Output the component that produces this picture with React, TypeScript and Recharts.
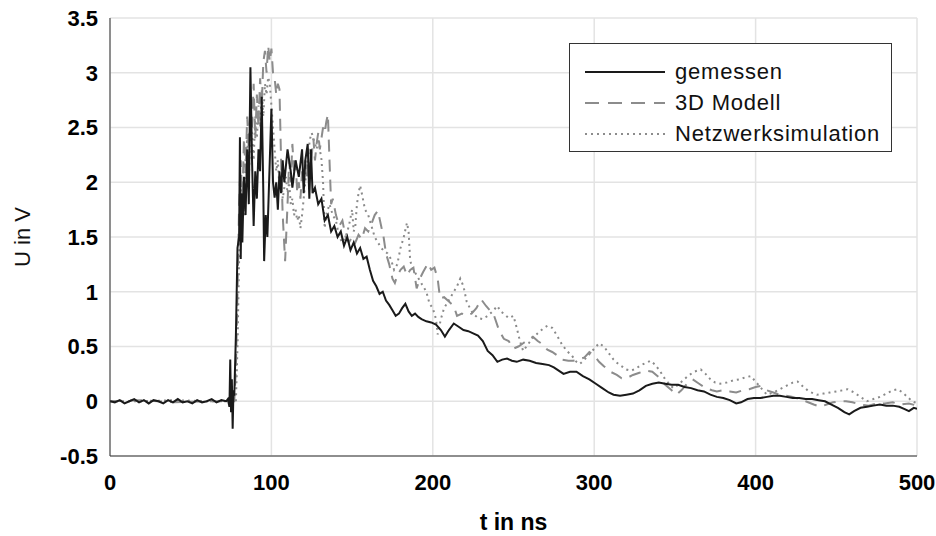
import { LineChart, Line, XAxis, YAxis, CartesianGrid } from 'recharts';

// [t in ns, U in V]
const gemessen: [number, number][] = [
  [0, 0], [3, -0.01], [6, 0.01], [9, -0.02], [12, 0.0], [15, 0.02], [18, -0.01], [21, 0.01],
  [24, -0.02], [27, 0.01], [30, 0.0], [33, -0.02], [36, 0.01], [39, -0.01], [42, 0.02], [45, -0.01],
  [48, 0.0], [51, -0.02], [54, 0.01], [57, -0.01], [60, 0.0], [63, 0.02], [66, -0.01], [69, 0.01],
  [72, 0.0], [73, 0.02], [74, -0.05], [74.5, 0.38], [75, -0.1], [75.5, 0.2], [76, -0.25], [76.5, 0.1],
  [77, 0.05], [78, 0.6], [79, 1.4], [80, 1.5], [80.5, 2.41], [81, 1.3], [81.5, 1.9], [82, 1.45],
  [83, 2.05], [84, 1.7], [85, 2.3], [86, 1.8], [87, 3.05], [88, 2.2], [89, 1.6], [90, 2.1],
  [91, 1.85], [92, 2.3], [93, 2.1], [94, 2.78], [95, 1.9], [95.5, 1.28], [96.5, 1.7], [97.5, 1.5],
  [99, 2.2], [100, 2.67], [101, 2.0], [102, 1.86], [103, 2.0], [104, 1.75], [105, 2.1], [106, 1.9],
  [107, 2.2], [108, 2.0], [110, 2.3], [112, 2.1], [113, 1.95], [115, 2.2], [117, 2.05], [119, 2.3],
  [120, 1.9], [121, 2.2], [122.5, 2.35], [123.5, 1.85], [124.5, 2.3], [125.5, 1.9], [127, 1.95],
  [129, 1.8], [131, 1.85], [133, 1.65], [135, 1.7], [137, 1.55], [139, 1.6], [141, 1.5], [143, 1.55],
  [145, 1.42], [147, 1.5], [149, 1.38], [151, 1.45], [153, 1.35], [155, 1.4], [157, 1.3], [159, 1.32],
  [161, 1.2], [163, 1.1], [165, 1.05], [167, 0.98], [169, 1.0], [171, 0.92], [173, 0.88], [175, 0.83],
  [177, 0.78], [179, 0.8], [181, 0.85], [183, 0.89], [185, 0.82], [187, 0.78], [189, 0.8], [191, 0.77],
  [193, 0.75], [196, 0.73], [199, 0.72], [202, 0.7], [205, 0.65], [207.5, 0.59], [210, 0.65],
  [213, 0.71], [216, 0.68], [219, 0.65], [222, 0.64], [225, 0.62], [228, 0.6], [231, 0.55],
  [234, 0.46], [237, 0.42], [240, 0.36], [243, 0.38], [246, 0.39], [249, 0.37], [252, 0.36],
  [256, 0.38], [260, 0.37], [264, 0.35], [268, 0.34], [272, 0.33], [275, 0.31], [278, 0.28],
  [281, 0.25], [285, 0.27], [289, 0.27], [293, 0.23], [297, 0.2], [301, 0.16], [305, 0.12],
  [309, 0.08], [312, 0.06], [316, 0.05], [320, 0.06], [324, 0.07], [328, 0.1], [332, 0.14],
  [336, 0.16], [340, 0.17], [344, 0.16], [348, 0.15], [352, 0.15], [356, 0.13], [360, 0.12],
  [364, 0.1], [368, 0.09], [372, 0.06], [376, 0.04], [380, 0.03], [384, 0.01], [388, -0.02],
  [391, -0.01], [395, 0.02], [399, 0.03], [403, 0.03], [407, 0.04], [411, 0.05], [415, 0.05],
  [419, 0.04], [423, 0.03], [427, 0.03], [431, 0.02], [435, 0.02], [439, 0.01], [443, 0.0],
  [447, -0.03], [451, -0.06], [455, -0.1], [458, -0.12], [461, -0.09], [465, -0.06], [469, -0.05],
  [473, -0.04], [477, -0.03], [481, -0.04], [485, -0.04], [489, -0.05], [492, -0.07], [495, -0.09],
  [498, -0.06], [500, -0.07],
];

const modell3d: [number, number][] = [
  [0, 0], [20, 0.01], [40, -0.01], [60, 0.0], [77, 0.0], [78, 0.3], [79, 1.0], [80, 1.8], [81, 2.2],
  [82, 1.8], [83, 2.4], [84, 2.1], [85, 2.6], [86, 2.3], [87, 2.7], [88, 2.5], [89, 2.9], [90, 2.4],
  [91, 2.8], [92, 2.5], [93, 2.95], [94, 2.7], [95, 3.1], [96, 3.2], [97, 3.0], [98, 3.25], [99, 3.1],
  [100, 3.22], [101, 3.0], [102, 2.95], [103, 2.8], [104, 2.9], [105, 2.85], [106, 2.2], [107, 1.7],
  [108.5, 1.28], [110, 1.8], [111, 2.2], [112, 2.0], [113, 2.35], [114, 2.1], [115, 2.2], [116, 1.9],
  [117, 2.0], [118, 1.85], [119, 2.1], [120, 2.0], [121, 2.2], [122, 2.05], [123, 2.3], [124, 2.1],
  [125, 2.25], [126, 2.4], [127, 2.2], [128, 2.35], [129, 2.45], [130, 2.3], [131, 2.4], [132, 2.5],
  [133, 2.45], [134, 2.55], [135, 2.62], [136, 2.2], [137, 1.8], [138, 1.85], [140, 1.7], [142, 1.6],
  [144, 1.65], [146, 1.5], [148, 1.45], [150, 1.5], [152, 1.45], [154, 1.52], [156, 1.48], [158, 1.58],
  [160, 1.55], [162, 1.62], [164, 1.7], [166, 1.74], [168, 1.6], [169.5, 1.5], [171, 1.35],
  [173, 1.25], [175, 1.12], [176.5, 1.08], [178, 1.15], [180, 1.2], [182, 1.23], [184, 1.15],
  [186, 1.2], [188, 1.22], [190, 1.03], [192, 1.12], [194, 1.18], [197, 1.26], [199, 1.2], [201, 1.22],
  [203, 1.12], [204.5, 0.94], [207, 0.95], [210, 0.91], [213, 0.87], [215, 0.78], [218, 0.8],
  [221, 0.78], [224, 0.8], [227, 0.85], [230, 0.93], [233, 0.87], [236, 0.82], [238, 0.78],
  [241, 0.65], [244, 0.57], [247, 0.55], [250, 0.48], [253, 0.5], [256, 0.53], [259, 0.56],
  [262, 0.59], [265, 0.55], [268, 0.52], [271, 0.47], [274, 0.45], [277, 0.42], [280, 0.38],
  [284, 0.37], [287, 0.37], [290, 0.38], [294, 0.4], [297, 0.45], [300, 0.42], [303, 0.36],
  [306, 0.32], [310, 0.27], [314, 0.24], [317, 0.21], [320, 0.21], [324, 0.24], [328, 0.26],
  [332, 0.28], [336, 0.27], [340, 0.22], [344, 0.15], [348, 0.1], [351, 0.06], [354, 0.1],
  [357, 0.15], [361, 0.2], [365, 0.16], [369, 0.12], [373, 0.1], [376, 0.09], [380, 0.1],
  [384, 0.09], [388, 0.08], [392, 0.1], [396, 0.11], [400, 0.13], [403, 0.14], [407, 0.1],
  [411, 0.08], [415, 0.06], [419, 0.05], [423, 0.04], [427, 0.02], [431, 0.0], [436, -0.03],
  [440, -0.05], [444, -0.03], [448, -0.01], [452, 0.0], [456, 0.0], [460, -0.01], [465, -0.03],
  [470, -0.04], [475, -0.02], [480, -0.02], [485, -0.01], [490, -0.03], [495, -0.02], [500, -0.04],
];

const netzwerk: [number, number][] = [
  [0, 0], [20, 0.0], [40, 0.01], [60, 0.0], [78, 0.0], [79, 0.5], [80, 1.3], [81, 1.9], [82, 2.0],
  [83, 1.7], [84, 2.2], [85, 2.4], [86, 2.0], [87, 2.5], [88, 2.44], [89, 2.2], [90, 2.6], [91, 2.4],
  [92, 2.7], [93, 2.5], [94, 2.84], [95, 2.6], [96, 2.9], [97, 2.8], [98, 2.96], [99, 2.9], [100, 2.7],
  [101, 2.5], [102, 2.3], [103, 2.1], [104, 2.2], [105, 1.95], [106, 2.05], [107, 1.85], [108, 1.95],
  [109, 2.05], [110, 1.9], [111, 2.0], [112, 1.8], [113, 1.85], [114, 1.7], [115, 1.75], [116, 1.65],
  [117, 1.7], [118, 1.58], [119, 1.7], [120, 1.85], [121, 2.0], [122, 2.15], [123, 2.3], [124, 2.4],
  [125, 2.45], [126, 2.4], [127, 2.35], [128, 2.3], [129, 2.4], [130, 2.3], [131, 2.21], [132, 2.0],
  [133, 1.58], [134, 1.7], [136, 1.8], [138, 1.7], [140, 1.65], [142, 1.5], [144, 1.45], [146, 1.5],
  [148, 1.6], [150, 1.75], [151, 1.55], [152, 1.6], [153, 1.8], [154, 1.9], [155, 1.97], [156, 1.9],
  [158, 1.75], [160, 1.7], [162, 1.6], [164, 1.5], [166, 1.45], [168, 1.4], [170, 1.37], [172, 1.35],
  [174, 1.3], [176, 1.2], [178, 1.25], [180, 1.4], [182, 1.5], [184, 1.63], [185, 1.55], [186, 1.28],
  [188, 1.2], [190, 1.15], [192, 1.1], [194, 1.05], [196, 1.0], [198, 0.89], [200, 0.85], [202, 0.75],
  [203, 0.61], [205, 0.75], [207, 0.85], [209, 0.9], [211, 0.95], [213, 1.0], [215, 1.05], [217, 1.12],
  [219, 1.05], [221, 0.91], [223, 0.85], [225, 0.8], [228, 0.76], [231, 0.75], [234, 0.78], [237, 0.82],
  [240, 0.87], [242, 0.82], [244, 0.8], [247, 0.76], [250, 0.78], [252, 0.67], [254, 0.55], [256, 0.46],
  [259, 0.52], [262, 0.58], [265, 0.62], [268, 0.66], [271, 0.69], [274, 0.67], [277, 0.6], [280, 0.52],
  [283, 0.46], [286, 0.42], [289, 0.36], [291, 0.34], [294, 0.38], [297, 0.43], [300, 0.48], [303, 0.53],
  [306, 0.5], [309, 0.44], [312, 0.38], [315, 0.34], [318, 0.31], [320, 0.29], [323, 0.28], [326, 0.3],
  [329, 0.33], [332, 0.35], [335, 0.37], [338, 0.33], [341, 0.27], [344, 0.2], [347, 0.15], [349, 0.12],
  [352, 0.15], [355, 0.19], [358, 0.23], [362, 0.27], [366, 0.29], [369, 0.25], [372, 0.2], [375, 0.17],
  [378, 0.16], [382, 0.17], [386, 0.19], [390, 0.2], [394, 0.22], [397, 0.23], [400, 0.18], [404, 0.11],
  [407, 0.06], [411, 0.08], [415, 0.11], [419, 0.14], [423, 0.17], [426, 0.18], [429, 0.14], [433, 0.09],
  [438, 0.06], [442, 0.07], [446, 0.08], [450, 0.09], [454, 0.1], [457, 0.11], [461, 0.08], [465, 0.04],
  [469, 0.0], [473, 0.02], [477, 0.04], [481, 0.07], [485, 0.1], [488, 0.11], [491, 0.08], [494, 0.04],
  [497, 0.0], [500, -0.02],
];

const xTicks = [0, 100, 200, 300, 400, 500];
const yTicks = [-0.5, 0, 0.5, 1, 1.5, 2, 2.5, 3, 3.5];

const legendItems = [
  { name: 'gemessen', color: '#1a1a1a', dash: undefined },
  { name: '3D Modell', color: '#8c8c8c', dash: '14 9' },
  { name: 'Netzwerksimulation', color: '#8c8c8c', dash: '2 4' },
];

const toPoints = (rows: [number, number][]) => rows.map(([t, u]) => ({ t, u }));

const tickFont = { fontFamily: 'Liberation Sans, Arial, sans-serif', fontSize: 22, fontWeight: 700, fill: '#000' };

function ChartLegend() {
  return (
    <div
      style={{
        position: 'absolute',
        left: 569,
        top: 43,
        width: 321,
        height: 107,
        border: '1px solid #333',
        background: '#fff',
        fontFamily: 'Liberation Sans, Arial, sans-serif',
        fontSize: 22,
        letterSpacing: 0.8,
        color: '#111',
      }}
    >
      {legendItems.map((item, i) => (
        <div key={item.name} style={{ display: 'flex', alignItems: 'center', height: 31, marginTop: i === 0 ? 12 : 0 }}>
          <svg width={90} height={10} style={{ marginLeft: 15 }}>
            <line x1={0} y1={5} x2={80} y2={5} stroke={item.color} strokeWidth={2} strokeDasharray={item.dash} />
          </svg>
          <span>{item.name}</span>
        </div>
      ))}
    </div>
  );
}

export default function App() {
  return (
    <div style={{ position: 'absolute', left: 0, top: 0, width: 936, height: 536, background: '#fff' }}>
      <LineChart width={936} height={536} margin={{ top: 18, right: 19, bottom: 0, left: 0 }}>
        <CartesianGrid stroke="#e3e3e3" strokeWidth={1.5} />
        <XAxis
          dataKey="t"
          type="number"
          domain={[0, 500]}
          ticks={xTicks}
          allowDataOverflow
          height={80}
          tickLine={false}
          tickMargin={12}
          axisLine={{ stroke: '#333' }}
          tick={tickFont}
          label={{ value: 't in ns', position: 'insideBottom', offset: 6, style: { ...tickFont, fontSize: 23 } }}
        />
        <XAxis xAxisId="top" orientation="top" type="number" domain={[0, 500]} height={0} tick={false} tickLine={false} axisLine={{ stroke: '#333' }} />
        <YAxis
          type="number"
          domain={[-0.5, 3.5]}
          ticks={yTicks}
          allowDataOverflow
          width={110}
          tickLine={false}
          tickMargin={6}
          axisLine={{ stroke: '#333' }}
          tick={tickFont}
          label={{
            value: 'U in V',
            angle: -90,
            position: 'insideLeft',
            offset: 22,
            style: { fontFamily: 'Liberation Sans, Arial, sans-serif', fontSize: 22, fill: '#111', textAnchor: 'middle' },
          }}
        />
        <YAxis yAxisId="right" orientation="right" type="number" domain={[-0.5, 3.5]} width={0} tick={false} tickLine={false} axisLine={{ stroke: '#333' }} />
        <Line
          data={toPoints(netzwerk)}
          dataKey="u"
          type="linear"
          stroke="#8a8a8a"
          strokeWidth={2}
          strokeDasharray="2 4"
          dot={false}
          isAnimationActive={false}
        />
        <Line
          data={toPoints(modell3d)}
          dataKey="u"
          type="linear"
          stroke="#8c8c8c"
          strokeWidth={2}
          strokeDasharray="12 8"
          dot={false}
          isAnimationActive={false}
        />
        <Line
          data={toPoints(gemessen)}
          dataKey="u"
          type="linear"
          stroke="#1a1a1a"
          strokeWidth={2}
          dot={false}
          isAnimationActive={false}
        />
      </LineChart>
      <ChartLegend />
    </div>
  );
}
